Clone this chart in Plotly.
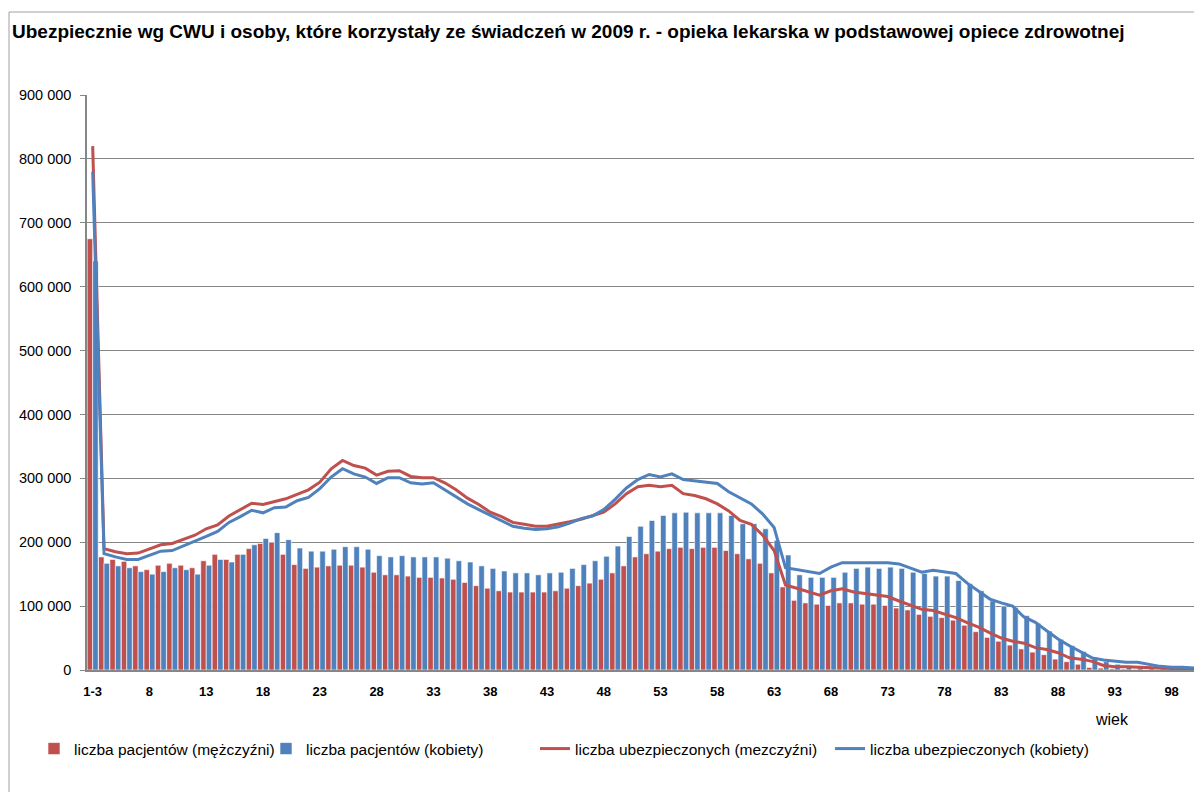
import plotly.graph_objects as go

categories = ["1-3"] + [str(a) for a in range(4, 101)]

pacjenci_m = [675, 177, 173, 170, 163, 157, 164, 167, 164, 160,
              171, 181, 173, 181, 190, 198, 200, 181, 165, 159,
              161, 163, 164, 164, 161, 153, 149, 149, 147, 145,
              145, 144, 142, 137, 132, 128, 124, 122, 122, 122,
              122, 124, 128, 132, 136, 142, 152, 163, 177, 182,
              186, 190, 192, 190, 192, 192, 187, 182, 174, 167,
              152, 130, 109, 105, 103, 101, 105, 105, 103, 103,
              101, 97, 94, 87, 84, 82, 78, 70, 60, 51,
              45, 39, 33, 28, 24, 17, 13, 9, 4, 3,
              2, 1.5, 1, 0.8, 0.6, 0.4, 0.3, 0.2]

pacjenci_k = [640, 167, 163, 160, 154, 150, 154, 160, 157, 150,
              164, 173, 169, 181, 196, 206, 215, 204, 191, 186,
              186, 189, 193, 193, 189, 179, 177, 179, 177, 177,
              177, 175, 171, 169, 163, 159, 155, 152, 152, 149,
              152, 153, 159, 165, 171, 178, 194, 209, 225, 234,
              242, 246, 247, 246, 246, 246, 242, 229, 229, 221,
              203, 180, 149, 145, 145, 145, 153, 159, 161, 159,
              161, 159, 153, 151, 147, 147, 140, 135, 124, 108,
              100, 98, 85, 73, 61, 48, 38, 29, 20, 13,
              9, 7, 5.5, 4, 3, 2, 1.5, 1]

ubezp_m = [820, 190, 185, 182, 183, 190, 196, 198, 204, 211,
           221, 227, 241, 251, 261, 259, 264, 268, 275, 282,
           294, 315, 328, 320, 316, 305, 311, 312, 303, 301,
           301, 293, 282, 269, 259, 247, 240, 231, 228, 225,
           225, 228, 232, 236, 241, 247, 260, 276, 287, 289,
           287, 289, 276, 273, 268, 260, 249, 234, 228, 211,
           187, 133, 128, 122, 117, 124, 127, 122, 120, 117,
           115, 108, 102, 95, 93, 88, 82, 74, 67, 58,
           50, 45, 42, 35, 32, 27, 19, 17, 13.5, 7,
           5.2, 5, 4.2, 4, 2.6, 1.6, 1, 1]

ubezp_k = [780, 182, 177, 173, 173, 180, 186, 187, 194, 202,
           209, 217, 231, 240, 250, 246, 254, 255, 265, 270,
           284, 302, 315, 307, 302, 292, 301, 301, 293, 291,
           293, 282, 271, 260, 251, 242, 234, 225, 222, 220,
           221, 224, 230, 237, 241, 251, 267, 285, 298, 306,
           302, 307, 298, 296, 294, 292, 279, 270, 260, 244,
           223, 160, 157, 153, 151, 161, 168, 168, 168, 168,
           168, 166, 159, 153, 156, 153, 151, 136, 124, 111,
           105, 100, 83, 74.5, 61.5, 48.5, 38, 29, 19, 15.6,
           13.5, 12, 12, 8.3, 5.7, 4.2, 4.2, 3]

y_ticks = [0, 100000, 200000, 300000, 400000, 500000, 600000, 700000, 800000, 900000]
y_ticktext = ["0", "100 000", "200 000", "300 000", "400 000", "500 000",
              "600 000", "700 000", "800 000", "900 000"]

names = ["liczba pacjentów (mężczyźni)", "liczba pacjentów (kobiety)",
         "liczba ubezpieczonych (mezczyźni)", "liczba ubezpieczonych (kobiety)"]

RED = "#C0504D"
BLUE = "#4F81BD"

def k(vals):
    return [v * 1000 for v in vals]

fig = go.Figure()
fig.add_trace(go.Bar(x=categories, y=k(pacjenci_m), name=names[0], marker_color=RED,
                     marker_line=dict(color="white", width=0.6), legend="legend"))
fig.add_trace(go.Bar(x=categories, y=k(pacjenci_k), name=names[1], marker_color=BLUE,
                     marker_line=dict(color="white", width=0.6), legend="legend2"))
fig.add_trace(go.Scatter(x=categories, y=k(ubezp_m), name=names[2], mode="lines",
                         line=dict(color=RED, width=3), legend="legend3"))
fig.add_trace(go.Scatter(x=categories, y=k(ubezp_k), name=names[3], mode="lines",
                         line=dict(color=BLUE, width=3), legend="legend4"))

# page offset (default body margin) and figure size
OFF = 8
W, H = 1202 - OFF, 792 - OFF
# plot area in page pixels: x 87..1200, y 95..670
PL, PR, PT, PB = 87, 1200, 95, 670
L, R, T, B = PL - OFF, (W + OFF) - PR, PT - OFF, (H + OFF) - PB
pw, ph = W - L - R, H - T - B

def px_x(x):
    return (x - OFF - L) / pw

def px_y(y):
    return (H - B - (y - OFF)) / ph

FONT = "Liberation Sans, Arial, sans-serif"
legend_font = dict(family=FONT, size=15.5, color="#000000")
def leg(x):
    return dict(x=px_x(x), y=px_y(749), xanchor="left", yanchor="middle",
                orientation="h", font=legend_font, bgcolor="rgba(0,0,0,0)",
                itemwidth=30, tracegroupgap=0)

fig.update_layout(
    width=W, height=H,
    margin=dict(l=L, r=R, t=T, b=B, autoexpand=False),
    paper_bgcolor="white", plot_bgcolor="white",
    barmode="group", bargap=0.03, bargroupgap=0,
    title=dict(text="<b>Ubezpiecznie wg CWU i osoby, które korzystały ze świadczeń w 2009 r. - opieka lekarska w podstawowej opiece zdrowotnej</b>",
               x=(12 - OFF) / W, xanchor="left", y=1 - (31 - OFF) / H, yanchor="middle",
               font=dict(family=FONT, size=19, color="#000000")),
    legend=leg(34), legend2=leg(266), legend3=leg(535), legend4=leg(830),
    showlegend=True,
    xaxis=dict(type="category", tickmode="array", tickvals=categories[::5],
               ticktext=categories[::5], tickangle=0,
               tickfont=dict(family=FONT, size=13, color="#000000", weight="bold"),
               showgrid=False, showline=True, linecolor="#868686", linewidth=2,
               ticks="outside", ticklen=8, tickcolor="rgba(0,0,0,0)",
               range=[-0.5, len(categories) - 0.5]),
    yaxis=dict(range=[0, 900000], tickmode="array", tickvals=y_ticks, ticktext=y_ticktext,
               tickfont=dict(family=FONT, size=14.5, color="#000000"),
               showgrid=True, gridcolor="#868686", gridwidth=1,
               showline=True, linecolor="#868686", linewidth=1.5,
               ticks="outside", ticklen=5, tickcolor="#868686", zeroline=False,
               ticklabelstandoff=6),
    annotations=[dict(text="wiek", x=px_x(1112), y=px_y(719), xref="paper", yref="paper",
                      showarrow=False, xanchor="center", yanchor="middle",
                      font=dict(family=FONT, size=16, color="#000000"))],
    shapes=[dict(type="rect", xref="paper", yref="paper",
                 x0=px_x(9), x1=px_x(1260), y0=px_y(850), y1=px_y(12),
                 line=dict(color="#A0A0A0", width=1), fillcolor="rgba(0,0,0,0)", layer="below")],
)

fig.write_html("out.html")
